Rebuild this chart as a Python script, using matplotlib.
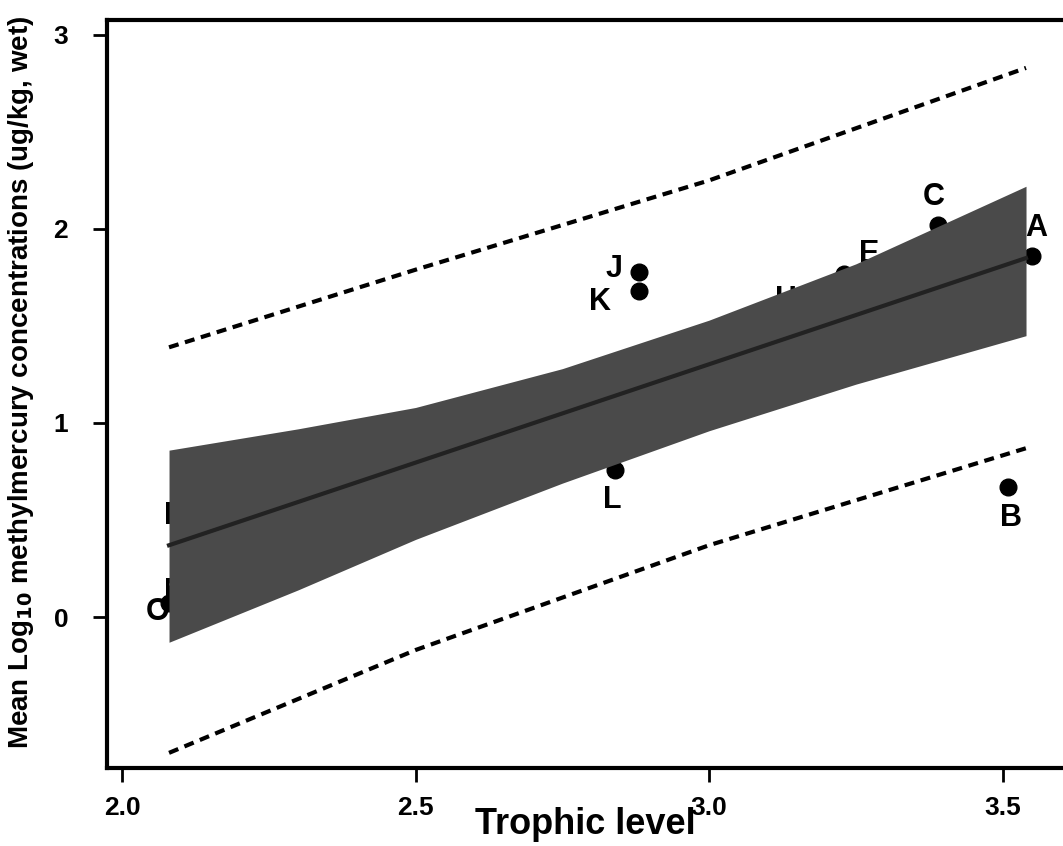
import numpy as np
import matplotlib.pyplot as plt

plt.rcParams['font.family'] = ['Liberation Sans Narrow', 'Liberation Sans', 'DejaVu Sans']
plt.rcParams['font.weight'] = 'bold'

# species points (trophic level, mean log10 MeHg)
labels = ['A', 'B', 'C', 'D', 'E', 'F', 'G', 'H', 'I', 'J', 'K', 'L', 'M', 'N', 'O']
tl = [3.55, 3.51, 3.39, 2.09, 3.23, 3.30, 3.43, 3.14, 3.01, 2.88, 2.88, 2.84, 2.10, 2.09, 2.08]
hg = [1.86, 0.67, 2.02, 0.52, 1.77, 1.55, 1.75, 1.62, 1.18, 1.78, 1.68, 0.76, 0.28, 0.13, 0.07]
# label offsets in points
off_x = [3, 2, -3, 0, 18, 0, 0, -4, -2, -18, -28, -2, 0, 0, -8]
off_y = [20, -22, 20, 0, 14, 0, 0, 2, -22, 2, -8, -22, 0, 0, -6]

# regression line, confidence band, prediction interval
fit_x = [2.08, 3.54]
fit_y = [0.37, 1.85]
band_x = [2.08, 2.3, 2.5, 2.75, 3.0, 3.25, 3.54]
band_hi = [0.86, 0.97, 1.08, 1.28, 1.53, 1.82, 2.22]
band_lo = [-0.13, 0.14, 0.40, 0.69, 0.96, 1.20, 1.45]
pi_x = [2.08, 2.5, 3.0, 3.54]
pi_hi = [1.39, 1.79, 2.25, 2.83]
pi_lo = [-0.70, -0.17, 0.37, 0.87]

fig = plt.figure(figsize=(10.63, 8.46), dpi=100)
ax = fig.add_axes([0.1007, 0.0922, 0.8993, 0.8842])

# points first, band drawn over them
ax.plot(tl, hg, 'o', color='black', markersize=12, zorder=2)
for lab, x, y, dx, dy in zip(labels, tl, hg, off_x, off_y):
    ax.annotate(lab, (x, y), xytext=(dx, dy), textcoords='offset points',
                ha='center', va='center', fontsize=22, fontweight='bold', zorder=2)

ax.fill_between(band_x, band_lo, band_hi, color='#4a4a4a', lw=0, zorder=3)
ax.plot(fit_x, fit_y, color='#222222', lw=3, zorder=4)

ax.plot(pi_x, pi_hi, color='black', lw=3, dashes=(2.4, 1.6), zorder=4)
ax.plot(pi_x, pi_lo, color='black', lw=3, dashes=(2.4, 1.6), zorder=4)

ax.set_xlim(1.9744, 3.603)
ax.set_ylim(-0.778, 3.077)
ax.set_xticks([2.0, 2.5, 3.0, 3.5])
ax.set_xticklabels(['2.0', '2.5', '3.0', '3.5'])
ax.set_yticks([0, 1, 2, 3])
ax.set_yticklabels(['0', '1', '2', '3'])
ax.tick_params(direction='out', length=10, width=2, labelsize=19)
ax.tick_params(axis='x', pad=10)
ax.tick_params(axis='y', pad=18)

for s in ['left', 'top', 'bottom']:
    ax.spines[s].set_linewidth(3)
ax.spines['right'].set_visible(False)

ax.set_xlabel('Trophic level', fontsize=26, fontweight='bold')
ax.xaxis.set_label_coords(0.5, -0.052)
ax.set_ylabel(r'Mean Log$_{10}$ methylmercury concentrations (ug/kg, wet)',
              fontsize=20, fontweight='bold')
ax.yaxis.set_label_coords(-0.074, 0.516)

fig.savefig('out.png', dpi=100)
